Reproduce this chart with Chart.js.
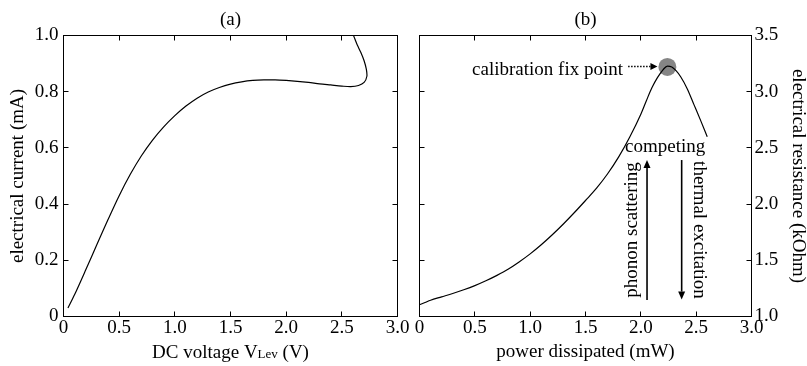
<!DOCTYPE html>
<html><head><meta charset="utf-8">
<script src="https://cdn.jsdelivr.net/npm/chart.js@4.4.0/dist/chart.umd.min.js"></script>
<style>
html,body{margin:0;padding:0;background:#fff;}
#wrap{position:relative;width:807px;height:366px;overflow:hidden;background:#fff;}
canvas{position:absolute;top:0;}
#ca{left:0;}
#cb{left:410px;}
</style></head><body>
<div id="wrap"><canvas id="ca" width="410" height="366"></canvas><canvas id="cb" width="397" height="366"></canvas></div>
<script>
const FONT = '"Liberation Serif", "Times New Roman", serif';

// ---------- Panel (a): current vs DC voltage ----------
const voltageV  = [0.04, 0.10, 0.20, 0.30, 0.40, 0.50, 0.60, 0.70, 0.80, 0.90, 1.00, 1.10, 1.20, 1.30, 1.40, 1.50, 1.60, 1.70, 1.80, 1.90, 2.00, 2.10, 2.20, 2.30, 2.40, 2.50, 2.58, 2.65, 2.70, 2.725, 2.72, 2.70, 2.67, 2.64, 2.62, 2.605, 2.595];
const currentMA = [0.03, 0.078, 0.166, 0.256, 0.345, 0.430, 0.506, 0.572, 0.628, 0.675, 0.715, 0.749, 0.777, 0.799, 0.815, 0.827, 0.835, 0.840, 0.842, 0.842, 0.840, 0.837, 0.833, 0.828, 0.824, 0.820, 0.818, 0.822, 0.833, 0.855, 0.88, 0.91, 0.94, 0.965, 0.985, 1.0, 1.01];
const xTicksA = [0, 0.5, 1.0, 1.5, 2.0, 2.5, 3.0];
const xTickLabelsA = ['0', '0.5', '1.0', '1.5', '2.0', '2.5', '3.0'];
const yTicksA = [0, 0.2, 0.4, 0.6, 0.8, 1.0];
const yTickLabelsA = ['0', '0.2', '0.4', '0.6', '0.8', '1.0'];

// ---------- Panel (b): resistance vs power ----------
const powerMW        = [0, 0.05, 0.10, 0.20, 0.30, 0.40, 0.50, 0.60, 0.70, 0.80, 0.90, 1.00, 1.10, 1.20, 1.30, 1.40, 1.50, 1.60, 1.70, 1.80, 1.90, 2.00, 2.05, 2.10, 2.15, 2.20, 2.24, 2.28, 2.32, 2.36, 2.42, 2.48, 2.54, 2.60];
const resistanceKOhm = [1.105, 1.125, 1.145, 1.175, 1.205, 1.238, 1.275, 1.318, 1.366, 1.42, 1.485, 1.557, 1.638, 1.727, 1.823, 1.925, 2.032, 2.142, 2.27, 2.42, 2.597, 2.80, 2.92, 3.035, 3.125, 3.195, 3.228, 3.22, 3.185, 3.133, 3.025, 2.885, 2.745, 2.60];
const fixPointPower = [2.24];
const fixPointResistance = [3.22];
const xTicksB = [0, 0.5, 1.0, 1.5, 2.0, 2.5, 3.0];
const xTickLabelsB = ['0', '0.5', '1.0', '1.5', '2.0', '2.5', '3.0'];
const yTicksB = [1.0, 1.5, 2.0, 2.5, 3.0, 3.5];
const yTickLabelsB = ['1.0', '1.5', '2.0', '2.5', '3.0', '3.5'];

// annotation anchors (data coordinates of panel b)
const ANNOT = {
  fixText:  {text: 'calibration fix point', x: 1.839, y: 3.149},
  fixArrow: {x1: 1.885, x2: 2.150, y: 3.224},
  competing:{text: 'competing', x: 1.857, y: 2.4635},
  phonon:   {text: 'phonon scattering', x: 1.965, y: 1.77},
  upArrow:  {x: 2.056, y1: 1.147, y2: 2.392},
  downArrow:{x: 2.369, y1: 2.392, y2: 1.151},
  thermal:  {text: 'thermal excitation', x: 2.48, y: 1.77}
};

function fontSpec(size){ return {family: FONT, size: size, weight: 'normal', lineHeight: 1.2}; }

const frameTicks = {
  id: 'frameTicks',
  afterDatasetsDraw(chart) {
    const {ctx, chartArea: a, scales} = chart;
    const xs = scales.x, ys = scales.y;
    const L = 5;
    ctx.save();
    ctx.strokeStyle = '#000';
    ctx.lineWidth = 1;
    ctx.setLineDash([]);
    ctx.strokeRect(a.left, a.top, a.right - a.left, a.bottom - a.top);
    ctx.beginPath();
    xs.ticks.forEach(t => {
      const p = Math.floor(xs.getPixelForValue(t.value)) + 0.5;
      ctx.moveTo(p, a.bottom); ctx.lineTo(p, a.bottom - L);
      ctx.moveTo(p, a.top); ctx.lineTo(p, a.top + L);
    });
    ys.ticks.forEach(t => {
      const p = Math.floor(ys.getPixelForValue(t.value)) + 0.5;
      ctx.moveTo(a.left, p); ctx.lineTo(a.left + L, p);
      ctx.moveTo(a.right, p); ctx.lineTo(a.right - L, p);
    });
    ctx.stroke();
    ctx.restore();
  }
};

const xTitleA = {
  id: 'xTitleA',
  afterDraw(chart) {
    const {ctx, chartArea: a} = chart;
    const parts = [['DC voltage V', 19], ['Lev', 13], [' (V)', 19]];
    ctx.save();
    ctx.fillStyle = '#000';
    ctx.textBaseline = 'alphabetic';
    ctx.textAlign = 'left';
    let w = 0;
    parts.forEach(p => { ctx.font = p[1] + 'px ' + FONT; w += ctx.measureText(p[0]).width; });
    let x = (a.left + a.right) / 2 - w / 2;
    const base = 358;
    parts.forEach(p => { ctx.font = p[1] + 'px ' + FONT; ctx.fillText(p[0], x, base); x += ctx.measureText(p[0]).width; });
    ctx.restore();
  }
};

function arrow(ctx, x1, y1, x2, y2, head, halfW, dash, lw) {
  const ang = Math.atan2(y2 - y1, x2 - x1);
  const bx = x2 - head * Math.cos(ang), by = y2 - head * Math.sin(ang);
  ctx.lineWidth = lw;
  ctx.setLineDash(dash);
  ctx.beginPath(); ctx.moveTo(x1, y1); ctx.lineTo(bx, by); ctx.stroke();
  ctx.setLineDash([]);
  ctx.beginPath();
  ctx.moveTo(x2, y2);
  ctx.lineTo(bx - halfW * Math.sin(ang), by + halfW * Math.cos(ang));
  ctx.lineTo(bx + halfW * Math.sin(ang), by - halfW * Math.cos(ang));
  ctx.closePath(); ctx.fill();
}

const annotB = {
  id: 'annotB',
  afterDatasetsDraw(chart) {
    const {ctx, scales: {x, y}} = chart;
    const X = v => x.getPixelForValue(v), Y = v => y.getPixelForValue(v);
    ctx.save();
    ctx.fillStyle = '#000'; ctx.strokeStyle = '#000';
    ctx.font = '19px ' + FONT;
    ctx.textBaseline = 'alphabetic';
    ctx.textAlign = 'right';
    ctx.fillText(ANNOT.fixText.text, X(ANNOT.fixText.x), Y(ANNOT.fixText.y));
    arrow(ctx, X(ANNOT.fixArrow.x1), Y(ANNOT.fixArrow.y), X(ANNOT.fixArrow.x2), Y(ANNOT.fixArrow.y), 7, 3.5, [1.5, 1.5], 1.5);
    ctx.textAlign = 'left';
    ctx.fillText(ANNOT.competing.text, X(ANNOT.competing.x), Y(ANNOT.competing.y));
    arrow(ctx, X(ANNOT.upArrow.x), Y(ANNOT.upArrow.y1), X(ANNOT.upArrow.x), Y(ANNOT.upArrow.y2), 8, 3.5, [], 1.6);
    arrow(ctx, X(ANNOT.downArrow.x), Y(ANNOT.downArrow.y1), X(ANNOT.downArrow.x), Y(ANNOT.downArrow.y2), 8, 3.5, [], 1.6);
    ctx.textAlign = 'center';
    ctx.save();
    ctx.translate(X(ANNOT.phonon.x), Y(ANNOT.phonon.y));
    ctx.rotate(-Math.PI / 2);
    ctx.fillText(ANNOT.phonon.text, 0, 0);
    ctx.restore();
    ctx.save();
    ctx.translate(X(ANNOT.thermal.x), Y(ANNOT.thermal.y));
    ctx.rotate(Math.PI / 2);
    ctx.fillText(ANNOT.thermal.text, 0, 0);
    ctx.restore();
    ctx.restore();
  }
};

function setTicks(values) { return s => { s.ticks = values.map(v => ({value: v})); }; }

const commonTicks = (labels, pad) => ({padding: pad, color: '#000', font: fontSpec(19), maxRotation: 0, minRotation: 0, autoSkip: false, callback: (v, i) => labels[i]});

new Chart(document.getElementById('ca'), {
  type: 'scatter',
  data: {datasets: [{
    data: voltageV.map((v, i) => ({x: v, y: currentMA[i]})),
    showLine: true, borderColor: '#000', borderWidth: 1.2, pointRadius: 0, tension: 0.3, fill: false
  }]},
  options: {
    responsive: false, animation: false, devicePixelRatio: 1,
    layout: {padding: {left: 0, right: 12.5, top: 0, bottom: 0}},
    plugins: {
      legend: {display: false}, tooltip: {enabled: false},
      title: {display: true, text: '(a)', fullSize: false, color: '#000', font: fontSpec(19), padding: {top: 8.5, bottom: 4.2}}
    },
    scales: {
      x: {type: 'linear', position: 'bottom', min: 0, max: 3,
          afterBuildTicks: setTicks(xTicksA), afterFit: s => { s.height = 49.5; },
          grid: {display: false, drawTicks: false}, border: {display: false},
          ticks: commonTicks(xTickLabelsA, 0), title: {display: false}},
      y: {type: 'linear', position: 'left', min: 0, max: 1,
          afterBuildTicks: setTicks(yTicksA), afterFit: s => { s.width = 63.5; },
          grid: {display: false, drawTicks: false}, border: {display: false},
          ticks: commonTicks(yTickLabelsA, 5),
          title: {display: true, text: 'electrical current (mA)', color: '#000', font: fontSpec(19), padding: {top: 7, bottom: 0}}}
    }
  },
  plugins: [frameTicks, xTitleA]
});

new Chart(document.getElementById('cb'), {
  type: 'scatter',
  data: {datasets: [
    {data: powerMW.map((v, i) => ({x: v, y: resistanceKOhm[i]})),
     showLine: true, borderColor: '#000', borderWidth: 1.2, pointRadius: 0, cubicInterpolationMode: 'monotone', fill: false},
    {data: fixPointPower.map((v, i) => ({x: v, y: fixPointResistance[i]})),
     showLine: false, pointRadius: 9, pointBackgroundColor: '#858585', pointBorderWidth: 0, pointBorderColor: '#858585'}
  ]},
  options: {
    responsive: false, animation: false, devicePixelRatio: 1,
    layout: {padding: {left: 9.5, right: 0, top: 0, bottom: 0}},
    plugins: {
      legend: {display: false}, tooltip: {enabled: false},
      title: {display: true, text: '(b)', fullSize: false, color: '#000', font: fontSpec(19), padding: {top: 8.5, bottom: 4.2}}
    },
    scales: {
      x: {type: 'linear', position: 'bottom', min: 0, max: 3,
          afterBuildTicks: setTicks(xTicksB), afterFit: s => { s.height = 49.5; },
          grid: {display: false, drawTicks: false}, border: {display: false},
          ticks: commonTicks(xTickLabelsB, 0),
          title: {display: true, text: 'power dissipated (mW)', color: '#000', font: fontSpec(19), padding: {top: 0, bottom: 3}}},
      y: {type: 'linear', position: 'right', min: 1, max: 3.5,
          afterBuildTicks: setTicks(yTicksB), afterFit: s => { s.width = 55.5; },
          grid: {display: false, drawTicks: false}, border: {display: false},
          ticks: commonTicks(yTickLabelsB, 3),
          title: {display: true, text: 'electrical resistance (kOhm)', color: '#000', font: {family: FONT, size: 19, weight: 'normal', lineHeight: 1}, padding: {top: 0, bottom: 0}}}
    }
  },
  plugins: [frameTicks, annotB]
});
</script>
</body></html>
